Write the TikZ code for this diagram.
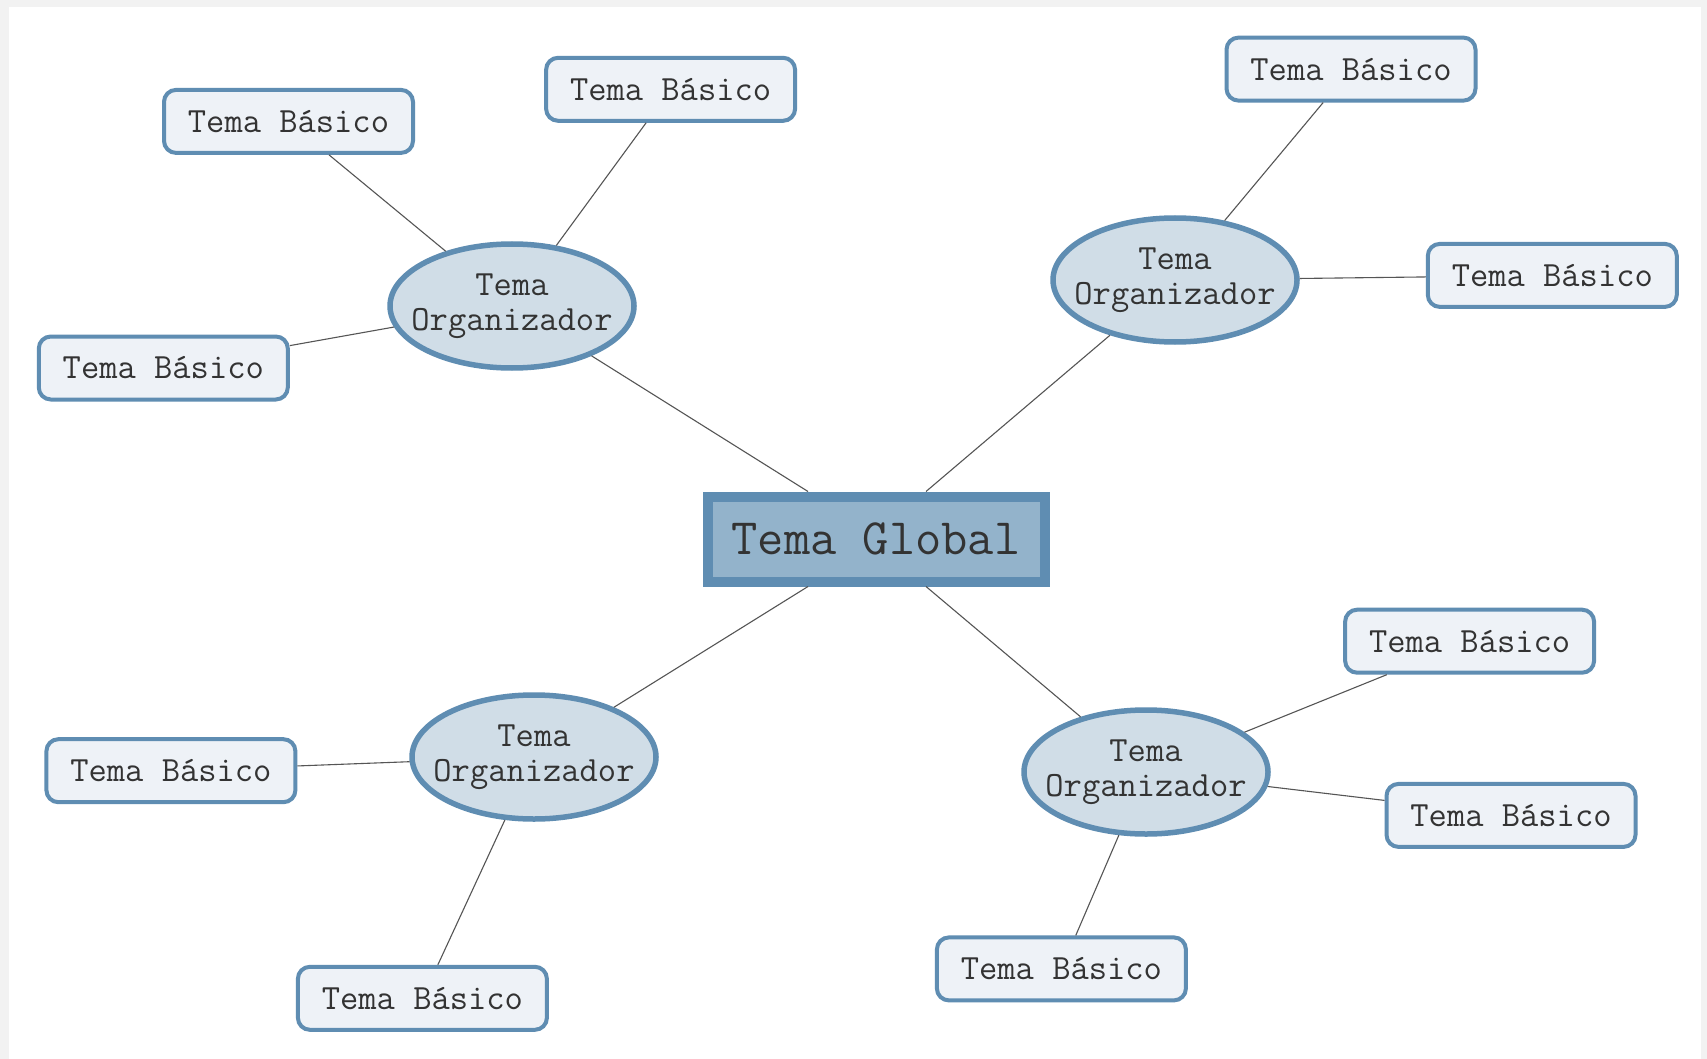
\documentclass[tikz,border=0pt]{standalone}
\usepackage{fontspec}
\usetikzlibrary{shapes.geometric}
\definecolor{bgframe}{HTML}{F2F2F2}
\definecolor{edgeblue}{HTML}{5F8DB2}
\definecolor{boxfill}{HTML}{EEF2F7}
\definecolor{orgfill}{HTML}{D0DDE7}
\definecolor{globfill}{HTML}{93B3CB}
\definecolor{txtgray}{HTML}{333333}
\definecolor{linegray}{HTML}{555555}
\tikzset{
  basic/.style={draw=edgeblue, line width=4pt, fill=boxfill, rounded corners=12pt,
    minimum width=249pt, minimum height=63pt, inner sep=0pt,
    font=\ttfamily\fontsize{35.5}{40}\selectfont, text=txtgray},
  org/.style={ellipse, draw=edgeblue, line width=5.5pt, fill=orgfill,
    minimum width=244pt, minimum height=124pt, inner sep=0pt,
    label={[align=center, font=\ttfamily\fontsize{35.5}{35}\selectfont, text=txtgray]center:Tema\\Organizador}},
  glob/.style={draw=edgeblue, line width=10pt, fill=globfill,
    minimum width=337pt, minimum height=85pt, inner sep=0pt,
    font=\ttfamily\fontsize{51}{56}\selectfont, text=txtgray},
  conn/.style={draw=linegray, line width=1.1pt}
}
\begin{document}
\begin{tikzpicture}[x=1pt,y=-1pt]
\useasboundingbox (0,0) rectangle (1707,1059);
\fill[bgframe] (0,0) rectangle (1707,1059);
\fill[white] (9,7) rectangle (1701,1059);

\node[glob] (g) at (876,539) {Tema Global};

\node[org] (o1) at (512,306) {};
\node[org] (o2) at (1175,280) {};
\node[org] (o3) at (534,757) {};
\node[org] (o4) at (1146,772) {};

\node[basic] (b1) at (288.5,121.4) {Tema Básico};
\node[basic] (b2) at (670.6,89.3) {Tema Básico};
\node[basic] (b3) at (163.3,368) {Tema Básico};
\node[basic] (b4) at (1351,69.1) {Tema Básico};
\node[basic] (b5) at (1552.3,275.4) {Tema Básico};
\node[basic] (b6) at (170.9,770.7) {Tema Básico};
\node[basic] (b7) at (422.4,998.3) {Tema Básico};
\node[basic] (b8) at (1469.6,641.2) {Tema Básico};
\node[basic] (b9) at (1511,815.4) {Tema Básico};
\node[basic] (b10) at (1061.4,968.9) {Tema Básico};

\draw[conn] (o1) -- ([xshift=-68pt]g.north);
\draw[conn] (o2) -- ([xshift=50pt]g.north);
\draw[conn] (o3) -- ([xshift=-68pt]g.south);
\draw[conn] (o4) -- ([xshift=50pt]g.south);

\draw[conn] (o1) -- (b1);
\draw[conn] (o1) -- (b2);
\draw[conn] (o1) -- (b3);
\draw[conn] (o2) -- (b4);
\draw[conn] (o2) -- (b5);
\draw[conn] (o3) -- (b6);
\draw[conn] (o3) -- (b7);
\draw[conn] (o4) -- (b8);
\draw[conn] (o4) -- (b9);
\draw[conn] (o4) -- (b10);
\end{tikzpicture}
\end{document}
